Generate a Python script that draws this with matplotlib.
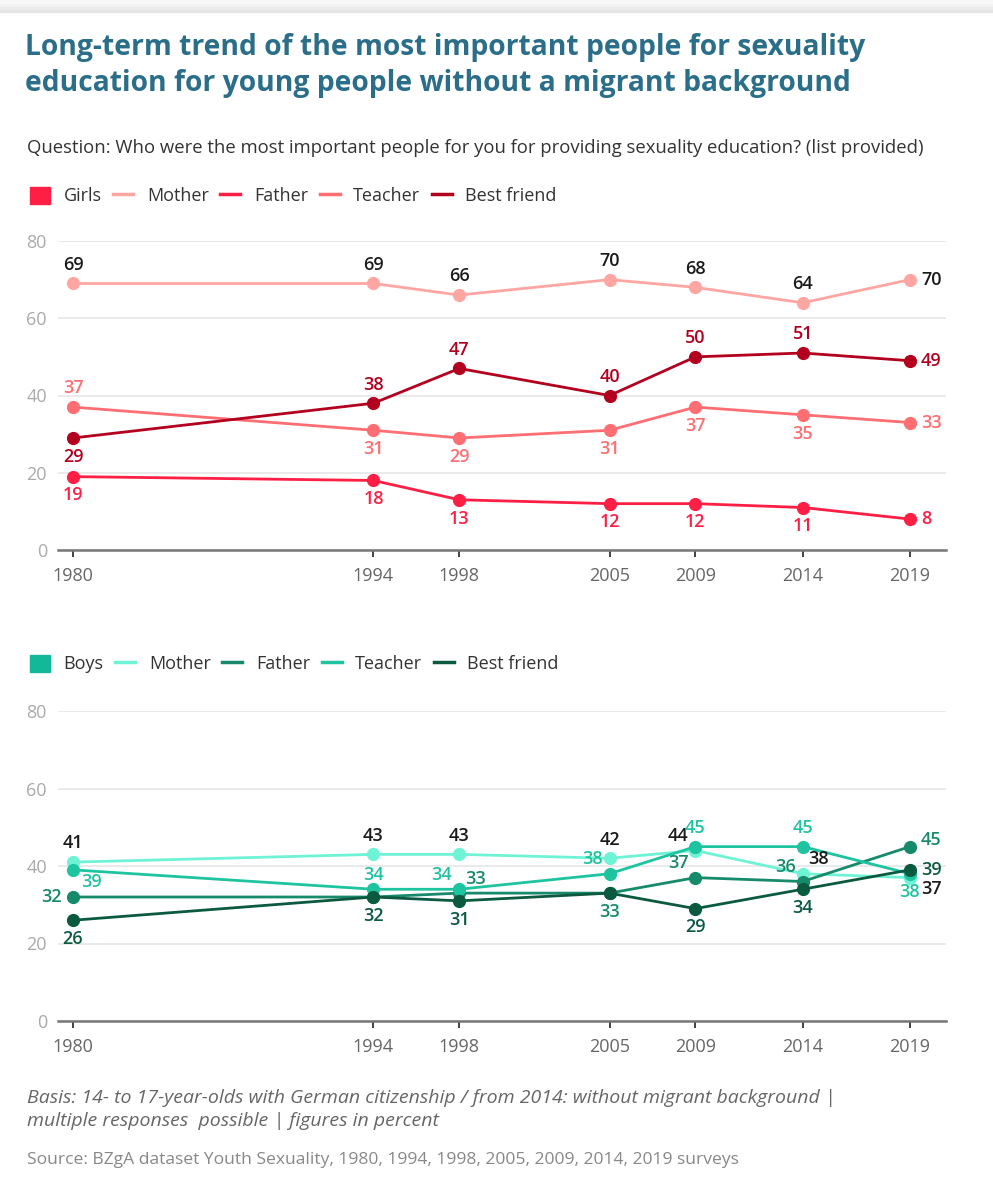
import matplotlib.pyplot as plt
from matplotlib.lines import Line2D
from matplotlib.patches import Patch, Rectangle

# ---------------------------------------------------------
# data
# ---------------------------------------------------------
years = [1980, 1994, 1998, 2005, 2009, 2014, 2019]
series_names = ["Mother", "Father", "Teacher", "Best friend"]

girls_mother = [69, 69, 66, 70, 68, 64, 70]
girls_father = [19, 18, 13, 12, 12, 11, 8]
girls_teacher = [37, 31, 29, 31, 37, 35, 33]
girls_friend = [29, 38, 47, 40, 50, 51, 49]

boys_mother = [41, 43, 43, 42, 44, 38, 37]
boys_father = [32, 32, 33, 33, 37, 36, 45]
boys_teacher = [39, 34, 34, 38, 45, 45, 38]
boys_friend = [26, 32, 31, 33, 29, 34, 39]

yticks = [0, 20, 40, 60, 80]

# ---------------------------------------------------------
# styles
# ---------------------------------------------------------
plt.rcParams['font.family'] = ['Open Sans', 'DejaVu Sans']

girls_colors = ["#ffa6a3", "#ff1f45", "#ff6e72", "#b3001e"]
girls_label_colors = ["#1a1a1a", "#ff1f45", "#ff6e72", "#b3001e"]
boys_colors = ["#6ff3d6", "#178a6c", "#1ec3a0", "#0b5a40"]
boys_label_colors = ["#1a1a1a", "#178a6c", "#1ec3a0", "#0b5a40"]

# label placement: offsets in points (dx, dy, ha, va)
P = {
    'a': (0, 7, 'center', 'bottom'),
    'b': (0, -7, 'center', 'top'),
    'r': (8, 0, 'left', 'center'),
    'l': (-8, 0, 'right', 'center'),
    'al': (-5, 4, 'right', 'bottom'),
    'ar': (4, 4, 'left', 'bottom'),
    'br': (6, -2, 'left', 'top'),
    'rb': (8, -8, 'left', 'center'),
    'ra': (8, 5, 'left', 'center'),
    'a2': (0, 4, 'center', 'bottom'),
    '': None,
}
girls_pos = [
    ['a', 'a', 'a', 'a', 'a', 'a', 'r'],
    ['b', 'b', 'b', 'b', 'b', 'b', 'r'],
    ['a', 'b', 'b', 'b', 'b', 'b', 'r'],
    ['b', 'a', 'a', 'a', 'a', 'a', 'r'],
]
boys_pos = [
    ['a', 'a', 'a', 'a', 'al', 'ar', 'rb'],
    ['l', '', 'ar', 'b', 'al', 'al', 'ra'],
    ['br', 'a2', 'al', 'al', 'a', 'a', 'b'],
    ['b', 'b', 'b', '', 'b', 'b', 'r'],
]

W, H = 993, 1183
fig = plt.figure(figsize=(W / 100, H / 100), dpi=100)
fig.patch.set_facecolor("white")

# card shadow on top
for i, c in enumerate(["#e4e4e4", "#ebebeb", "#f2f2f2", "#f8f8f8"]):
    fig.patches.append(Rectangle((0, 1 - (12 - 3 * i) / H), 1, 3 / H,
                                 transform=fig.transFigure, color=c, zorder=0))


def fy(py):
    return 1 - py / H


fig.text(25 / W, fy(47), "Long-term trend of the most important people for sexuality",
         color="#2a6e89", fontsize=20.3, fontweight="bold", va="center")
fig.text(25 / W, fy(84), "education for young people without a migrant background",
         color="#2a6e89", fontsize=20.3, fontweight="bold", va="center")
fig.text(27 / W, fy(148),
         "Question: Who were the most important people for you for providing "
         "sexuality education? (list provided)",
         color="#333333", fontsize=13.3, va="center")

x0, x1 = 58, 946
xlim = (1980 - 15 / 21.46, 2019 + (x1 - 910) / 21.46)


def draw_panel(ax, data, colors, label_colors, positions, group, group_color, legend_y):
    for vals, col, lcol, pos in zip(data, colors, label_colors, positions):
        ax.plot(years, vals, color=col, lw=2, marker="o", ms=8.5,
                solid_capstyle="round", zorder=3, clip_on=False)
        for yr, v, p in zip(years, vals, pos):
            if not P[p]:
                continue
            dx, dy, ha, va = P[p]
            ax.annotate(str(v), (yr, v), xytext=(dx, dy), textcoords="offset points",
                        ha=ha, va=va, color=lcol, fontsize=13,
                        fontweight="semibold", zorder=4, annotation_clip=False)
    ax.set_xlim(*xlim)
    ax.set_ylim(0, 80)
    ax.set_xticks(years)
    ax.set_yticks(yticks)
    ax.tick_params(axis="x", length=5, width=1.3, color="#333333", labelcolor="#666666",
                   labelsize=13, pad=7)
    ax.tick_params(axis="y", length=0, labelcolor="#aaaaaa", labelsize=13, pad=8)
    for s in ["top", "right", "left"]:
        ax.spines[s].set_visible(False)
    ax.spines["bottom"].set_color("#777777")
    ax.spines["bottom"].set_linewidth(1.8)
    ax.grid(axis="y", color="#e6e6e6", lw=1.2, zorder=0)
    ax.set_axisbelow(True)

    handles = [Patch(facecolor=group_color, edgecolor=group_color)]
    handles += [Line2D([], [], color=c, lw=2.5) for c in colors]
    leg = fig.legend(handles, [group] + series_names, loc="center left",
                     bbox_to_anchor=(23 / W, fy(legend_y)), ncol=5, frameon=False,
                     fontsize=13, handlelength=1.1, handleheight=1.1,
                     handletextpad=0.75, columnspacing=0.65, borderaxespad=0)
    for t in leg.get_texts():
        t.set_color("#333333")


ax_g = fig.add_axes([x0 / W, fy(550), (x1 - x0) / W, 309 / H])
draw_panel(ax_g, [girls_mother, girls_father, girls_teacher, girls_friend],
           girls_colors, girls_label_colors, girls_pos, "Girls", "#ff1f45", 196)

ax_b = fig.add_axes([x0 / W, fy(1021), (x1 - x0) / W, 310 / H])
draw_panel(ax_b, [boys_mother, boys_father, boys_teacher, boys_friend],
           boys_colors, boys_label_colors, boys_pos, "Boys", "#13b899", 664)

fig.text(27 / W, fy(1098),
         "Basis: 14- to 17-year-olds with German citizenship / from 2014: without migrant background |",
         color="#666666", fontsize=14, style="italic", va="center")
fig.text(27 / W, fy(1121), "multiple responses  possible | figures in percent",
         color="#666666", fontsize=14, style="italic", va="center")
fig.text(27 / W, fy(1160),
         "Source: BZgA dataset Youth Sexuality, 1980, 1994, 1998, 2005, 2009, 2014, 2019 surveys",
         color="#888888", fontsize=12.6, va="center")

fig.savefig("out.png", dpi=100)
